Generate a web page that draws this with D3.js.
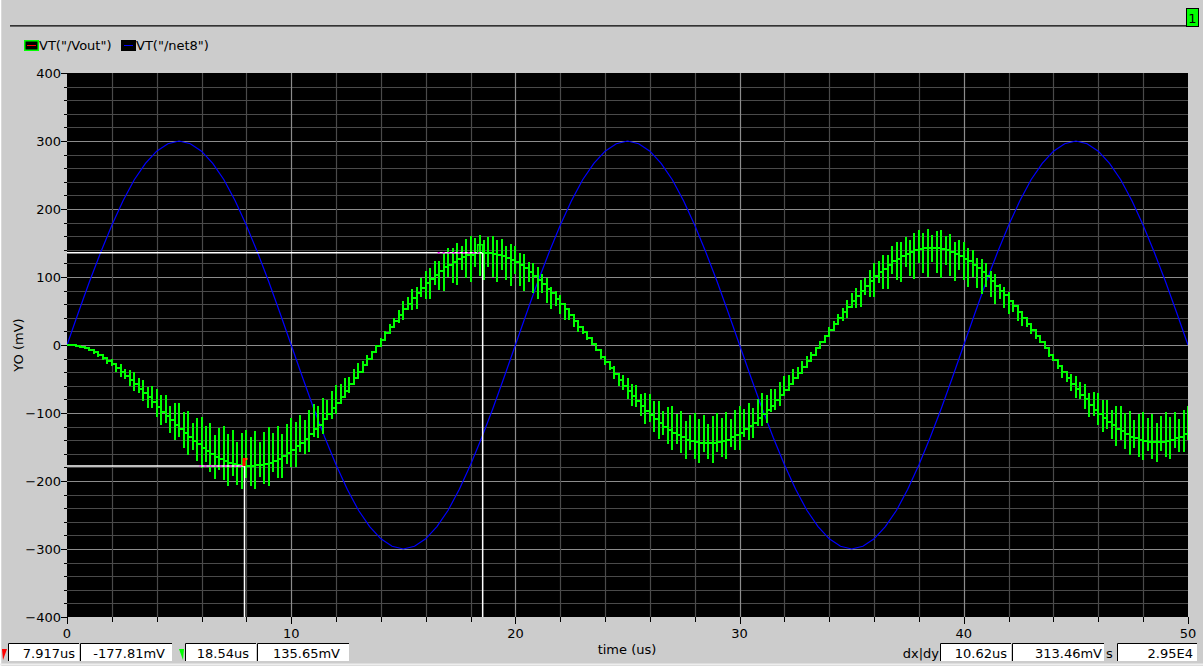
<!DOCTYPE html>
<html><head><meta charset="utf-8">
<script src="https://cdn.jsdelivr.net/npm/d3@7"></script>
<style>
html,body{margin:0;padding:0;background:#cccccc;overflow:hidden;}
svg{display:block;}
text{font-family:"DejaVu Sans",sans-serif;fill:#000;}
</style></head><body>
<svg id="c" width="1203" height="666"></svg>
<script>
// ---------------- data ----------------
const seriesNames = ['VT("/Vout")', 'VT("/net8")'];
const xTickValues = [0, 10, 20, 30, 40, 50];
const yTickValues = [400, 300, 200, 100, 0, -100, -200, -300, -400];
const xTitle = "time (us)";
const yTitle = "YO (mV)";
const tabLabel = "1";

// Vout sampled every 0.2 us (staircase level, spike extent above, spike extent below) in mV
const voutStepUs = 0.2;
const voutMid = [
0,0,-1,-3,-5,-8,-11,-15,-19,-23,
-28,-34,-39,-45,-51,-57,-64,-71,-77,-84,
-91,-98,-104,-111,-117,-123,-130,-135,-141,-146,
-151,-156,-160,-164,-167,-170,-173,-175,-176,-177,
-178,-178,-177,-176,-175,-173,-170,-167,-163,-159,
-154,-149,-144,-138,-131,-124,-117,-109,-101,-93,
-85,-76,-67,-58,-49,-39,-30,-20,-11,-1,
8,17,26,35,44,53,61,69,76,84,
91,97,103,109,114,118,122,126,129,132,
133,135,136,136,135,134,133,131,128,125,
122,117,113,108,102,96,90,83,76,68,
61,53,44,36,27,19,10,1,-8,-17,
-25,-34,-43,-51,-60,-68,-75,-83,-90,-97,
-103,-109,-115,-120,-125,-129,-133,-136,-139,-141,
-143,-144,-144,-144,-144,-143,-141,-139,-136,-132,
-129,-124,-119,-114,-108,-102,-96,-89,-81,-74,
-66,-58,-49,-41,-32,-23,-14,-5,4,13,
22,31,39,48,56,64,72,80,87,94,
101,107,112,118,123,127,131,134,137,139,
141,142,143,143,142,141,139,137,134,131,
127,123,118,113,107,101,94,87,80,73,
65,57,48,40,31,22,13,4,-5,-14,
-22,-31,-40,-49,-57,-65,-73,-80,-88,-95,
-101,-107,-113,-118,-123,-127,-131,-135,-137,-140,
-141,-142,-143,-143,-142,-141,-140,-137,-135,-131,
-127];
const voutUp = [
1,1,1,1,1,2,3,4,4,6,
8,8,11,9,14,17,15,20,15,23,
27,24,30,22,32,37,31,38,27,39,
45,37,46,32,45,51,42,50,34,48,
53,43,50,34,47,52,41,48,32,43,
46,36,41,27,35,37,28,31,20,25,
26,18,19,11,13,12,7,6,2,1,
2,3,5,5,8,11,10,13,10,15,
18,16,20,14,21,24,20,24,17,24,
27,22,26,18,24,27,21,25,17,23,
24,19,21,14,18,19,14,16,10,12,
12,8,8,5,5,4,2,1,2,5,
8,8,12,10,16,20,18,24,18,26,
31,26,33,23,34,39,32,39,27,38,
43,35,41,28,39,43,34,40,27,36,
39,30,34,22,29,31,23,25,16,20,
20,14,14,8,9,7,3,1,1,2,
4,5,7,6,10,13,12,15,11,17,
20,17,21,15,22,25,21,25,18,25,
28,23,27,19,26,28,22,26,17,24,
25,20,22,15,19,20,15,17,10,13,
13,9,9,5,6,4,2,1,1,4,
7,7,11,10,15,20,18,23,17,26,
30,26,32,23,33,38,31,38,27,38,
42,34,41,28,38,42,34,39,26,35,
38];
const voutDown = [
1,1,1,1,1,1,2,2,3,5,
3,6,8,5,9,11,6,12,15,8,
15,20,10,19,23,12,22,27,14,25,
30,16,27,33,17,29,35,18,30,35,
18,30,35,18,30,35,17,28,33,16,
26,30,14,23,26,12,20,22,10,16,
17,8,11,12,5,7,6,2,2,1,
1,4,8,5,11,16,9,18,23,13,
23,29,15,28,34,18,31,38,19,34,
40,20,35,41,20,34,40,20,33,38,
18,30,34,16,26,29,14,21,23,10,
16,16,7,9,8,3,3,1,1,3,
5,3,7,10,6,12,15,8,15,19,
10,19,23,12,21,26,13,23,28,14,
24,29,14,24,29,14,24,28,14,22,
26,12,20,23,11,17,19,9,14,15,
7,10,10,4,5,5,1,1,1,2,
6,9,6,12,17,10,18,24,13,24,
30,16,29,35,18,32,39,20,35,42,
21,36,43,21,36,42,21,35,40,20,
32,37,18,29,32,15,24,26,12,19,
20,9,12,12,5,6,4,1,1,3,
2,5,8,5,10,13,7,14,18,10,
17,21,11,20,25,13,22,27,14,24,
28,14,24,29,14,24,28,14,23,26,
13];

// net8 sampled every 0.5 us, mV
const net8StepUs = 0.5;
const net8 = [
0,47,93,136,176,212,243,267,285,296,300,
296,285,267,243,212,176,136,93,47,0,
-47,-93,-136,-176,-212,-243,-267,-285,-296,-300,
-296,-285,-267,-243,-212,-176,-136,-93,-47,0,
47,93,136,176,212,243,267,285,296,300,
296,285,267,243,212,176,136,93,47,0,
-47,-93,-136,-176,-212,-243,-267,-285,-296,-300,
-296,-285,-267,-243,-212,-176,-136,-93,-47,0,
47,93,136,176,212,243,267,285,296,300,
296,285,267,243,212,176,136,93,47,0];

// cursors
const cursorTimes = [7.917, 18.54];
const cursorValues = [-177.81, 135.65];
const cursorReadouts = ["7.917us", "-177.81mV", "18.54us", "135.65mV"];
const deltaLabel = "dx|dy";
const deltaReadouts = ["10.62us", "313.46mV", "2.95E4"];
const slopeLabel = "s";

// ---------------- layout ----------------
const svg = d3.select("#c");
const W = 1203, H = 666;
const P = {l: 67, r: 1188, t: 73, b: 617};

const x = d3.scaleLinear().domain([0, 50]).range([P.l, P.r]);
const y = d3.scaleLinear().domain([-400, 400]).range([P.b, P.t]);

svg.append("rect").attr("width", W).attr("height", H).attr("fill", "#cccccc");
// window edges
svg.append("line").attr("x1", 0.5).attr("x2", 0.5).attr("y1", 0).attr("y2", H).attr("stroke", "#ffffff").attr("stroke-width", 1.5);
svg.append("line").attr("x1", 0).attr("x2", W).attr("y1", 664.5).attr("y2", 664.5).attr("stroke", "#eeeeee").attr("stroke-width", 2);

// top separator and tab
svg.append("line").attr("x1", 10).attr("x2", 1187).attr("y1", 25.8).attr("y2", 25.8).attr("stroke", "#000").attr("stroke-width", 1.3);
svg.append("rect").attr("x", 1186.5).attr("y", 8.5).attr("width", 12).attr("height", 18)
  .attr("fill", "#00ff00").attr("stroke", "#000").attr("stroke-width", 1);
svg.append("text").attr("x", 1192.5).attr("y", 23).attr("text-anchor", "middle")
  .attr("font-size", 13).text(tabLabel);

// legend
const legendColors = [{box: "#00ff00", line: "#ff0000"}, {box: "#000000", line: "#0000ff"}];
const legendX = [24, 121];
seriesNames.forEach((name, i) => {
  const g = svg.append("g");
  g.append("rect").attr("x", legendX[i] + 0.75).attr("y", 40.75).attr("width", 13.5).attr("height", 9.5)
    .attr("fill", "#000").attr("stroke", legendColors[i].box).attr("stroke-width", 1.5);
  g.append("line").attr("x1", legendX[i] + 3).attr("x2", legendX[i] + 12).attr("y1", 45.5).attr("y2", 45.5)
    .attr("stroke", legendColors[i].line).attr("stroke-width", 1);
  g.append("text").attr("x", legendX[i] + 15).attr("y", 50).attr("font-size", 13).text(name);
});

// plot background
svg.append("rect").attr("x", P.l).attr("y", P.t).attr("width", P.r - P.l).attr("height", P.b - P.t).attr("fill", "#000");

svg.append("clipPath").attr("id", "clip").append("rect")
  .attr("x", P.l).attr("y", P.t).attr("width", P.r - P.l).attr("height", P.b - P.t);

// grid
const gridG = svg.append("g").attr("clip-path", "url(#clip)");
const yMinor = d3.range(-380, 400, 20);
gridG.selectAll(".hg").data(yMinor).join("line")
  .attr("x1", P.l).attr("x2", P.r)
  .attr("y1", d => Math.round(y(d)) + 0.5).attr("y2", d => Math.round(y(d)) + 0.5)
  .attr("stroke", d => d % 100 === 0 ? "#8c8c8c" : "#4a4a4a").attr("stroke-width", 1.2);
const xMinor = d3.range(2, 50, 2);
gridG.selectAll(".vg").data(xMinor).join("line")
  .attr("x1", d => Math.round(x(d)) + 0.5).attr("x2", d => Math.round(x(d)) + 0.5)
  .attr("y1", P.t).attr("y2", P.b)
  .attr("stroke", d => d % 10 === 0 ? "#8c8c8c" : "#4a4a4a").attr("stroke-width", 1.2);

// axes ticks
const axG = svg.append("g");
axG.selectAll(".yt").data(d3.range(-400, 401, 20)).join("line")
  .attr("x1", d => d % 100 === 0 ? P.l - 6 : P.l - 3).attr("x2", P.l)
  .attr("y1", d => Math.round(y(d)) + 0.5).attr("y2", d => Math.round(y(d)) + 0.5)
  .attr("stroke", "#000").attr("stroke-width", 1);
axG.selectAll(".xt").data(d3.range(0, 51, 2)).join("line")
  .attr("x1", d => Math.round(x(d)) + 0.5).attr("x2", d => Math.round(x(d)) + 0.5)
  .attr("y1", P.b).attr("y2", d => d % 10 === 0 ? P.b + 7 : P.b + 5)
  .attr("stroke", "#000").attr("stroke-width", 1);

const fmt = d3.format("d");
axG.selectAll(".yl").data(yTickValues).join("text")
  .attr("x", P.l - 6).attr("y", d => y(d) + 4.7).attr("text-anchor", "end")
  .attr("font-size", 13).text(d => fmt(d));
axG.selectAll(".xl").data(xTickValues).join("text")
  .attr("x", d => x(d)).attr("y", 638).attr("text-anchor", "middle")
  .attr("font-size", 13).text(d => fmt(d));

svg.append("text").attr("x", 627).attr("y", 654).attr("text-anchor", "middle").attr("font-size", 13).text(xTitle);
svg.append("text").attr("transform", "translate(23,345) rotate(-90)").attr("text-anchor", "middle")
  .attr("font-size", 13).text(yTitle);

// data layers
const dataG = svg.append("g").attr("clip-path", "url(#clip)");

const net8Pts = net8.map((v, i) => [i * net8StepUs, v]);
dataG.append("path").datum(net8Pts)
  .attr("d", d3.line().x(d => x(d[0])).y(d => y(d[1])))
  .attr("fill", "none").attr("stroke", "#0000ff").attr("stroke-width", 1.2);

const nV = Math.min(voutMid.length, voutUp.length, voutDown.length);
const voutPts = d3.range(nV).map(i => ({t: i * voutStepUs, v: voutMid[i], hi: voutMid[i] + voutUp[i], lo: voutMid[i] - voutDown[i]}));

dataG.selectAll(".spk").data(voutPts).join("line")
  .attr("x1", d => Math.round(x(d.t))).attr("x2", d => Math.round(x(d.t)))
  .attr("y1", d => y(d.hi)).attr("y2", d => y(d.lo))
  .attr("stroke", "#00ff00").attr("stroke-width", 2).attr("shape-rendering", "crispEdges");
dataG.append("path").datum(voutPts)
  .attr("d", d3.line().curve(d3.curveStepAfter).x(d => Math.round(x(d.t))).y(d => Math.round(y(d.v))))
  .attr("fill", "none").attr("stroke", "#00ff00").attr("stroke-width", 2).attr("shape-rendering", "crispEdges");

// cursors
const curG = svg.append("g").attr("clip-path", "url(#clip)");
cursorTimes.forEach((t, i) => {
  const cx = x(t), cy = y(cursorValues[i]);
  curG.append("line").attr("x1", P.l).attr("x2", cx).attr("y1", cy).attr("y2", cy)
    .attr("stroke", "#ffffff").attr("stroke-width", 1.5);
  curG.append("line").attr("x1", cx - 45).attr("x2", cx).attr("y1", cy).attr("y2", cy)
    .attr("stroke", "#ff00ff").attr("stroke-width", 1.5).attr("stroke-dasharray", "2,3");
  curG.append("line").attr("x1", cx).attr("x2", cx).attr("y1", cy).attr("y2", P.b)
    .attr("stroke", "#ffffff").attr("stroke-width", 1.5);
});
// cursor markers
{
  const ax = x(cursorTimes[0]), ay = y(cursorValues[0]);
  curG.append("path").attr("d", `M${ax - 2},${ay} L${ax - 2},${ay - 8} L${ax + 3},${ay - 8} L${ax + 1},${ay - 5} L${ax + 1},${ay} Z`)
    .attr("fill", "#ff0000");
  curG.append("rect").attr("x", ax + 1).attr("y", ay - 8).attr("width", 2).attr("height", 2).attr("fill", "#ff8000");
  const bx = x(cursorTimes[1]), by = y(cursorValues[1]);
  curG.append("path").attr("d", `M${bx - 5},${by} L${bx - 5},${by - 8} L${bx},${by - 8} L${bx},${by}`)
    .attr("fill", "none").attr("stroke", "#00ff00").attr("stroke-width", 1.5);
}

// status bar
const stat = svg.append("g");
function field(x0, x1, label, textEnd) {
  stat.append("rect").attr("x", x0).attr("y", 643).attr("width", x1 - x0).attr("height", 18).attr("fill", "#ffffff");
  stat.append("path").attr("d", `M${x0 + 0.5},661 L${x0 + 0.5},643.5 L${x1},643.5`).attr("fill", "none").attr("stroke", "#000").attr("stroke-width", 1);
  stat.append("text").attr("x", textEnd).attr("y", 658).attr("text-anchor", "end").attr("font-size", 13).text(label);
}
stat.append("path").attr("d", "M2,649 L7,649 L3,660 Z").attr("fill", "#ff0000");
field(8, 79, cursorReadouts[0], 75);
field(80, 172, cursorReadouts[1], 165);
stat.append("path").attr("d", "M179,649 L184,649 L183,660 Z").attr("fill", "#00ff00");
field(185, 256, cursorReadouts[2], 249);
field(257, 349, cursorReadouts[3], 340);
stat.append("text").attr("x", 939).attr("y", 658).attr("text-anchor", "end").attr("font-size", 13).text(deltaLabel);
field(940, 1011, deltaReadouts[0], 1007);
field(1012, 1104, deltaReadouts[1], 1102);
stat.append("text").attr("x", 1106).attr("y", 658).attr("font-size", 13).text(slopeLabel);
field(1117, 1197, deltaReadouts[2], 1193);
</script>
</body></html>
